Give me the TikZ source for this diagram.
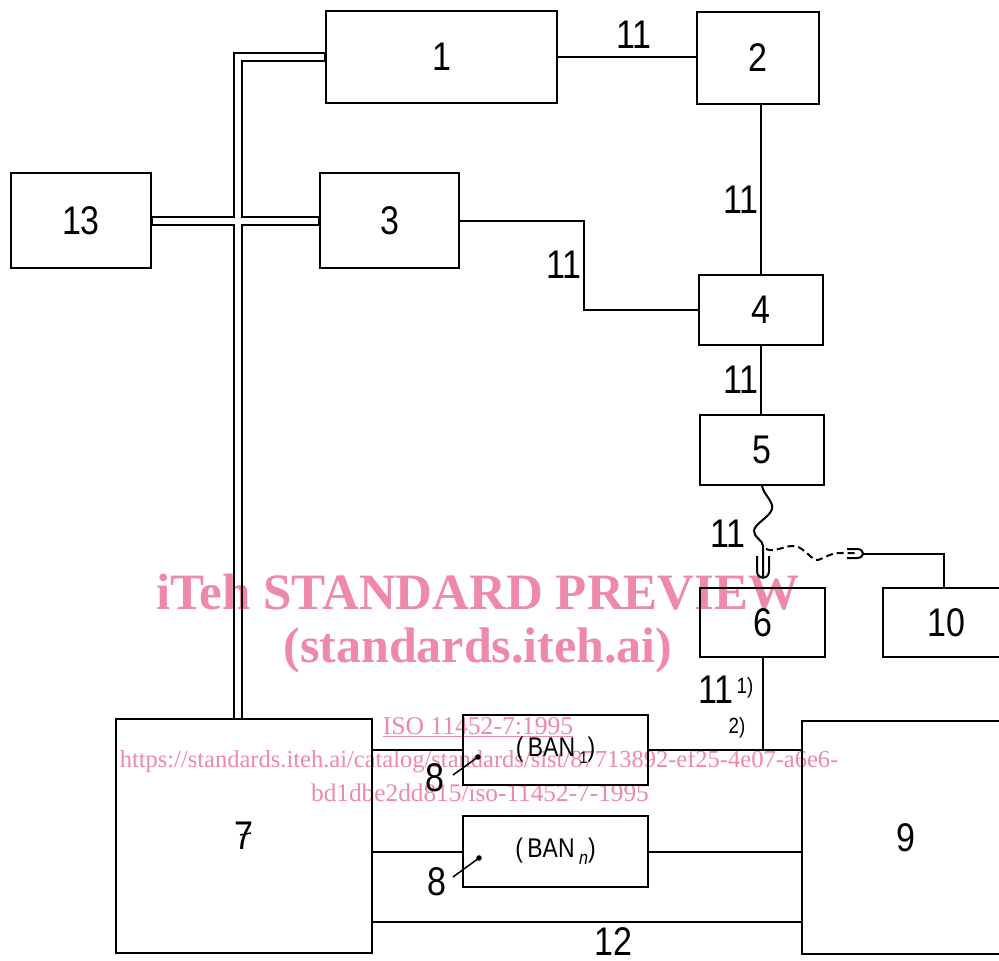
\documentclass[tikz,border=0pt]{standalone}
\usepackage{fontspec}
\newfontfamily\lblfont[FakeStretch=0.85]{Liberation Sans}
\newfontfamily\wmfont{Liberation Serif}
\usetikzlibrary{calc}
\definecolor{wmpink}{RGB}{238,138,168}
\begin{document}
\begin{tikzpicture}[x=1pt,y=-1pt,
 box/.style={draw, line width=2pt, inner sep=0pt, font=\lblfont\fontsize{40}{40}\selectfont},
 wire/.style={line width=2pt},
 lab/.style={inner sep=0pt, font=\lblfont\fontsize{40}{40}\selectfont},
 smalllab/.style={inner sep=0pt, font=\lblfont\fontsize{22}{22}\selectfont},
 banlab/.style={font=\lblfont\fontsize{27}{27}\selectfont},
 wm/.style={text=wmpink, inner sep=0pt}]
\clip (0,0) rectangle (999,961);
\fill[white] (0,0) rectangle (999,961);
% boxes
\node[box, minimum width=231pt, minimum height=92pt] (n1) at (441.5,57) {1};
\node[box, minimum width=122pt, minimum height=92pt] (n2) at (758,57.5) {2};
\node[box, minimum width=140pt, minimum height=95pt] (n13) at (81,220.5) {13};
\node[box, minimum width=139pt, minimum height=95pt] (n3) at (389.5,220.5) {3};
\node[box, minimum width=124pt, minimum height=70pt] (n4) at (761,310) {4};
\node[box, minimum width=124pt, minimum height=70pt] (n5) at (762,450) {5};
\node[box, minimum width=125pt, minimum height=69pt] (n6) at (762.5,622.5) {6};
\node[box, minimum width=127pt, minimum height=69pt] (n10) at (946.5,622.5) {10};
\node[box, minimum width=256pt, minimum height=234pt] (n7) at (244,836) {7};
\node[box, minimum width=208pt, minimum height=233pt] (n9) at (906,837.5) {9};
\node[box, banlab, minimum width=185pt, minimum height=70pt] (ban1) at (555.5,750) {(\,BAN\,\raisebox{-7pt}{\fontsize{17}{17}\selectfont 1})};
\node[box, banlab, minimum width=185pt, minimum height=71pt] (bann) at (555.5,851.5) {(\,BAN\,\raisebox{-7pt}{\fontsize{19}{19}\selectfont\itshape n})};
\draw[line width=1.5pt] (240,835) -- (251,833);
% single wires
\draw[wire] (n1.east) -- (n1.east -| n2.west);
\draw[wire] (n4.north) -- (n4.north |- n2.south);
\draw[wire] (n3.east) -- ++(124,0) |- (n4.west);
\draw[wire] (n4.south) -- (n4.south |- n5.north);
\draw[wire] (n6.south) -- (n6.south |- ban1.east);
\draw[wire] (n7.east |- ban1.west) -- (ban1.west);
\draw[wire] (ban1.east) -- (ban1.east -| n9.west);
\draw[wire] (n7.east |- bann.west) -- (bann.west);
\draw[wire] (bann.east) -- (bann.east -| n9.west);
\coordinate (c12) at (372,922);
\draw[wire] (c12) -- (c12 -| n9.west);
% double bus
\coordinate (b7) at (238,719);
\draw[line width=10pt] (b7) |- (n1.west);
\draw[line width=10pt] (n13.east) -- (n3.west);
\draw[line width=6pt, white, shorten <=1.2pt, shorten >=1.2pt] (b7) |- (n1.west);
\draw[line width=6pt, white, shorten <=1.2pt, shorten >=1.2pt] (n13.east) -- (n3.west);
% wavy cable and plug between 5 and 6
\draw[wire] (n5.south) .. controls (764,495) and (774,502) .. (772,509)
  .. controls (770,517) and (754,524) .. (754,531)
  .. controls (754,538) and (763,540) .. (763,546) -- (763,577);
\draw[wire] (757,556) -- (757,571) .. controls (757,580) and (769,580) .. (769,571) -- (769,556);
\draw[wire, dash pattern=on 7pt off 4pt] (766,549) .. controls (775,553) and (785,545) .. (795,546)
  .. controls (805,548) and (812,561) .. (818,560)
  .. controls (825,558) and (830,553) .. (840,553) -- (858,553);
\draw[wire] (847,549) -- (857,549) .. controls (865,549) and (865,558) .. (857,558) -- (847,558);
\coordinate (p10) at (863,553.5);
\draw[wire] (p10) -| ($(n10.north)+(-2.5,0)$);
% labels
\node[lab] (l11a) at (634,35) {11};
\node[lab] (l11b) at (741,200) {11};
\node[lab] (l11c) at (564,265) {11};
\node[lab] (l11d) at (741,380) {11};
\node[lab] (l11e) at (728,534) {11};
\node[lab] (l11f) at (716,690) {11};
\node[smalllab] (s1) at (745,688) {1)};
\node[smalllab] (s2) at (737,728) {2)};
\node[lab] (l12) at (613,942) {12};
\node[lab] (l8a) at (435,778) {8};
\node[lab] (l8b) at (437,882) {8};
\coordinate (e8a) at (453,775);
\coordinate (d8a) at (478,757);
\coordinate (e8b) at (453,877);
\coordinate (d8b) at (479,858);
\draw[line width=1.5pt] (e8a) -- (d8a);
\draw[line width=1.5pt] (e8b) -- (d8b);
\fill (d8a) circle (2.8pt);
\fill (d8b) circle (2.8pt);
% watermark
\begin{scope}[blend mode=multiply]
\node[wm, font=\wmfont\bfseries\fontsize{51}{51}\selectfont] (w1) at (478,592) {iTeh STANDARD PREVIEW};
\node[wm, font=\wmfont\bfseries\fontsize{50}{50}\selectfont] (w2) at (478,650) {(standards.iteh.ai)};
\node[wm, font=\wmfont\fontsize{25.6}{26}\selectfont] (w3) at (478,727) {\underline{ISO 11452-7:1995}};
\node[wm, font=\wmfont\fontsize{24.5}{26}\selectfont] (w4) at (479,762) {https://standards.iteh.ai/catalog/standards/sist/87713892-ef25-4e07-a6e6-};
\node[wm, font=\wmfont\fontsize{25.3}{26}\selectfont] (w5) at (480,793) {bd1dbe2dd815/iso-11452-7-1995};
\end{scope}
\end{tikzpicture}
\end{document}
